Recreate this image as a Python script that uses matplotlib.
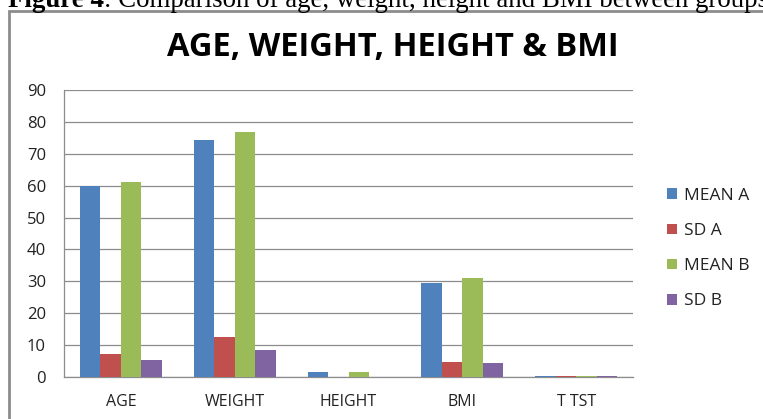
import matplotlib
matplotlib.use("Agg")
import matplotlib.pyplot as plt
import numpy as np
from matplotlib.patches import Rectangle

categories = ["AGE", "WEIGHT", "HEIGHT", "BMI", "T TST"]
series_names = ["MEAN A", "SD A", "MEAN B", "SD B"]
mean_a = [59.8, 74.2, 1.6, 29.5, 0.3]
sd_a = [7.1, 12.5, 0.1, 4.8, 0.3]
mean_b = [61.2, 76.8, 1.6, 31.2, 0.3]
sd_b = [5.3, 8.4, 0.1, 4.3, 0.3]
colors = ["#4F81BD", "#C0504D", "#9BBB59", "#8064A2"]
y_ticks = list(range(0, 100, 10))

W, H = 763, 419
FONT = "Open Sans"
fig = plt.figure(figsize=(W / 100, H / 100), dpi=100)
fig.patch.set_facecolor("white")

# caption cut off at the top of the page
cap_bold = fig.text(8 / W, 1 - 7 / H, "Figure 4", fontfamily="Liberation Serif",
                    fontweight="bold", fontsize=19.4, va="baseline", ha="left")
fig.canvas.draw()
bb = cap_bold.get_window_extent()
fig.text(bb.x1 / W, 1 - 7 / H,
         ": Comparison of age, weight, height and BMI between groups",
         fontfamily="Liberation Serif", fontsize=19.4, va="baseline", ha="left")

# chart frame running off the right and bottom edges
fig.patches.append(Rectangle((9 / W, -0.1), 1.2, 1 - 11 / H + 0.1,
                             transform=fig.transFigure, fill=False,
                             edgecolor="#8c8c8c", linewidth=2))

fig.text(393 / W, 1 - 47 / H, "AGE, WEIGHT, HEIGHT & BMI", fontfamily=FONT,
         fontweight="bold", fontsize=23.5, ha="center", va="center")

left, right, top, bottom = 64, 633, 90, 377
ax = fig.add_axes([left / W, 1 - bottom / H, (right - left) / W, (bottom - top) / H])

x = np.arange(len(categories))
width = 0.18
for i, (vals, name) in enumerate(zip([mean_a, sd_a, mean_b, sd_b], series_names)):
    ax.bar(x + (i - 1.5) * width, vals, width, color=colors[i], label=name, zorder=3)

ax.set_xlim(-0.5, len(categories) - 0.5)
ax.set_ylim(0, 90)
ax.set_yticks(y_ticks)
ax.set_xticks(x)
ax.set_xticklabels(categories)
ax.tick_params(axis="both", length=0, colors="#222222")
ax.tick_params(axis="y", pad=13, labelsize=12)
ax.tick_params(axis="x", pad=12, labelsize=11.5)
for lbl in ax.get_xticklabels() + ax.get_yticklabels():
    lbl.set_fontfamily(FONT)
ax.grid(axis="y", color="#8c8c8c", linewidth=0.9, zorder=0)
for side in ["top", "right"]:
    ax.spines[side].set_visible(False)
for side in ["left", "bottom"]:
    ax.spines[side].set_color("#8c8c8c")
    ax.spines[side].set_linewidth(0.9)

leg = fig.legend(loc="upper left", bbox_to_anchor=(667 / W, 1 - 188 / H),
                 frameon=False, prop={"family": FONT, "size": 12.5},
                 handlelength=0.58, handleheight=0.58, handletextpad=0.4,
                 labelspacing=1.1, borderpad=0, borderaxespad=0)
for t in leg.get_texts():
    t.set_color("#222222")

fig.savefig("out.png", dpi=100)
